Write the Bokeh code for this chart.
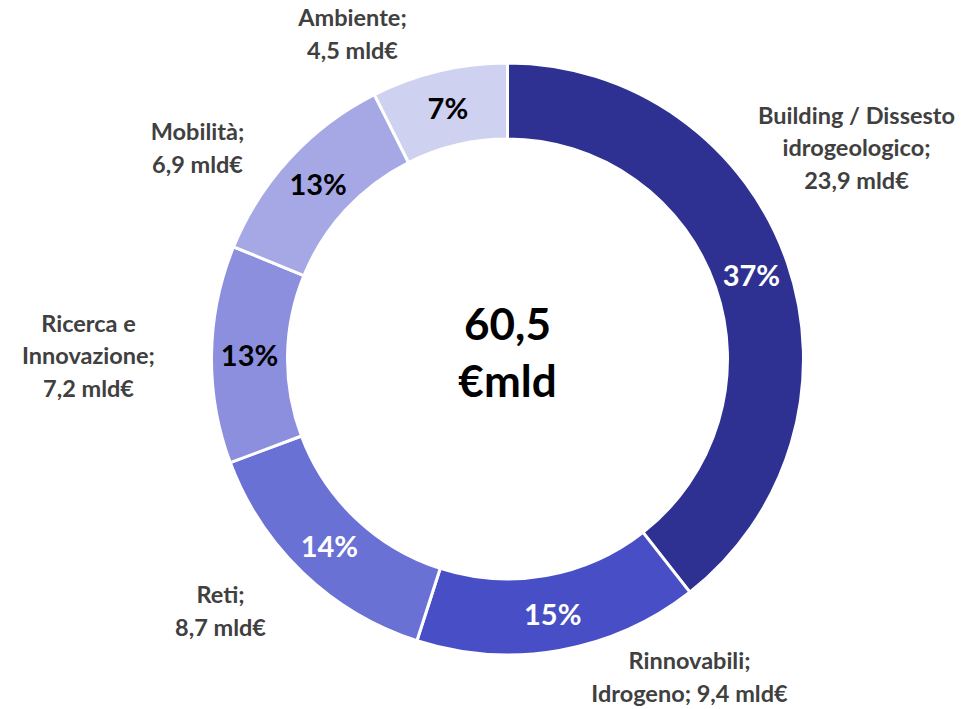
import math
from bokeh.plotting import figure
from bokeh.models import Range1d, ColumnDataSource
from bokeh.core.properties import value
from bokeh.embed import file_html
from bokeh.resources import INLINE

# ---- data ----
categories = ["Building / Dissesto\nidrogeologico;\n23,9 mld€",
              "Rinnovabili;\nIdrogeno; 9,4 mld€",
              "Reti;\n8,7 mld€",
              "Ricerca e\nInnovazione;\n7,2 mld€",
              "Mobilità;\n6,9 mld€",
              "Ambiente;\n4,5 mld€"]
amounts = [23.9, 9.4, 8.7, 7.2, 6.9, 4.5]
pct_labels = ["37%", "15%", "14%", "13%", "13%", "7%"]
total_label = "60,5\n€mld"

# ---- style ----
colors = ["#2E3192", "#484FC6", "#6A71D4", "#8B8FDE", "#A6A8E5", "#CFD1F1"]
pct_colors = ["white", "white", "white", "black", "black", "black"]
FONT = "Lato"

W, H = 961, 709
IMG_H = 709
p = figure(width=W, height=H, output_backend="svg", toolbar_location=None,
           x_range=Range1d(0, W), y_range=Range1d(IMG_H - H, IMG_H),
           min_border=0, outline_line_color=None)
p.axis.visible = False
p.grid.visible = False
p.background_fill_color = "white"

cx, cy = 507, IMG_H - 358.5
r_out, r_in = 296, 220

tot = sum(amounts)
starts, ends, mids = [], [], []
cum = 0.0
for a in amounts:
    s = math.pi / 2 - 2 * math.pi * cum / tot
    cum += a
    e = math.pi / 2 - 2 * math.pi * cum / tot
    starts.append(s)
    ends.append(e)
    mids.append((s + e) / 2)

src = ColumnDataSource(dict(start=starts, end=ends, color=colors))
p.annular_wedge(x=cx, y=cy, inner_radius=r_in, outer_radius=r_out,
                start_angle="start", end_angle="end", direction="clock",
                fill_color="color", line_color="white", line_width=3, source=src)

r_lab = (r_in + r_out) / 2
px = [cx + r_lab * math.cos(m) for m in mids]
py = [cy + r_lab * math.sin(m) for m in mids]
p.text(x=px, y=py, text=pct_labels, text_color=pct_colors,
       text_font=value(FONT), text_font_style="bold", text_font_size="29px",
       text_align="center", text_baseline="middle")

# outer category labels (layout anchors, image px)
lab_x = [856, 689, 220, 88, 197, 352]
lab_y = [147, 676, 610, 355, 147, 33]
p.text(x=lab_x, y=[IMG_H - v for v in lab_y], text=categories, text_color="#404040",
       text_font=value(FONT), text_font_style="bold", text_font_size="23.5px",
       text_align="center", text_baseline="middle", text_line_height=1.15)

p.text(x=[cx], y=[IMG_H - 351], text=[total_label], text_color="black",
       text_font=value(FONT), text_font_style="bold", text_font_size="44px",
       text_align="center", text_baseline="middle", text_line_height=1.1)

open("out.html", "w").write(file_html(p, INLINE))
